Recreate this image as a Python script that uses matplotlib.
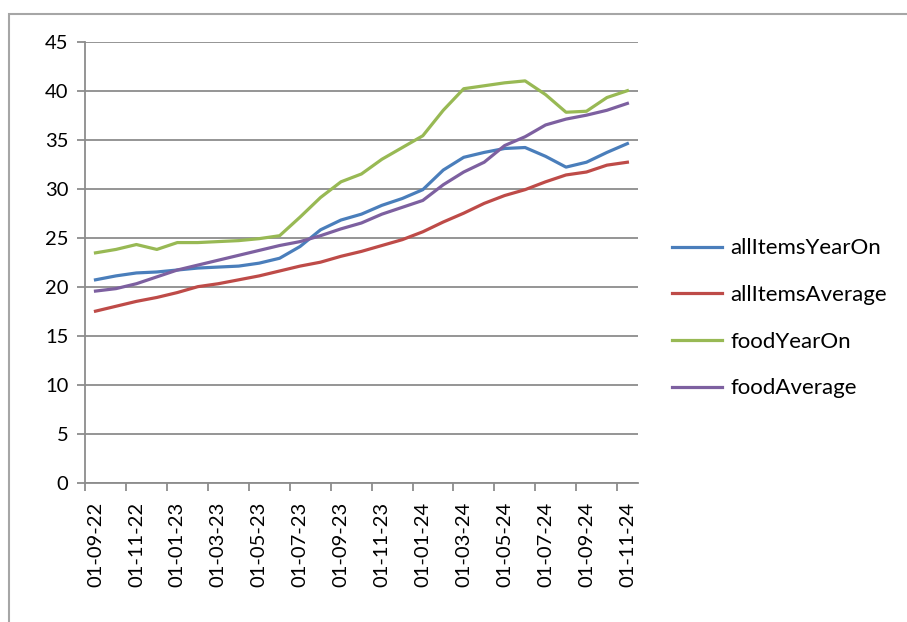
import matplotlib
matplotlib.use("Agg")
import matplotlib.pyplot as plt
from matplotlib.patches import Rectangle

plt.rcParams["font.family"] = ["Lato", "DejaVu Sans"]

# monthly dates, Sep 2022 .. Nov 2024
months = [
    "01-09-22", "01-10-22", "01-11-22", "01-12-22", "01-01-23", "01-02-23",
    "01-03-23", "01-04-23", "01-05-23", "01-06-23", "01-07-23", "01-08-23",
    "01-09-23", "01-10-23", "01-11-23", "01-12-23", "01-01-24", "01-02-24",
    "01-03-24", "01-04-24", "01-05-24", "01-06-24", "01-07-24", "01-08-24",
    "01-09-24", "01-10-24", "01-11-24",
]

all_items_year_on = [
    20.7, 21.1, 21.4, 21.5, 21.7, 21.9, 22.0, 22.1, 22.4, 22.9, 24.1, 25.8,
    26.8, 27.4, 28.3, 29.0, 29.9, 31.9, 33.2, 33.7, 34.1, 34.2, 33.3, 32.2,
    32.7, 33.7, 34.6,
]
all_items_average = [
    17.5, 18.0, 18.5, 18.9, 19.4, 20.0, 20.3, 20.7, 21.1, 21.6, 22.1, 22.5,
    23.1, 23.6, 24.2, 24.8, 25.6, 26.6, 27.5, 28.5, 29.3, 29.9, 30.7, 31.4,
    31.7, 32.4, 32.7,
]
food_year_on = [
    23.45, 23.8, 24.3, 23.8, 24.5, 24.5, 24.6, 24.7, 24.9, 25.2, 27.1, 29.1,
    30.7, 31.5, 33.0, 34.2, 35.4, 38.0, 40.2, 40.5, 40.8, 41.0, 39.6, 37.8,
    37.9, 39.3, 40.0,
]
food_average = [
    19.55, 19.8, 20.3, 21.0, 21.7, 22.2, 22.7, 23.2, 23.7, 24.2, 24.6, 25.2,
    25.9, 26.5, 27.4, 28.1, 28.8, 30.4, 31.7, 32.7, 34.4, 35.3, 36.5, 37.1,
    37.5, 38.0, 38.7,
]

series = [
    ("allItemsYearOn", all_items_year_on, "#4A7EBB"),
    ("allItemsAverage", all_items_average, "#BE4B48"),
    ("foodYearOn", food_year_on, "#98B954"),
    ("foodAverage", food_average, "#7D60A0"),
]

fig = plt.figure(figsize=(9.07, 6.22), dpi=100)
ax = fig.add_axes([0.094, 0.224, 0.609, 0.709])

# outer chart frame
fig.patches.append(Rectangle((9 / 907, -0.1), 1.2, 1 - 14 / 622 + 0.1,
                             transform=fig.transFigure, fill=False,
                             edgecolor="#A6A6A6", linewidth=1.5))

x = list(range(len(months)))
for name, vals, col in series:
    ax.plot(x, vals, color=col, linewidth=2.3, label=name)

ax.set_xlim(-0.5, len(months) - 0.5)
ax.set_ylim(0, 45)
ax.set_yticks(range(0, 46, 5))
ax.grid(axis="y", color="#8C8C8C", linewidth=1.3)
ax.set_axisbelow(True)

ax.set_xticks(x[::2])
ax.set_xticklabels(months[::2], rotation=90)
ax.set_xticks([i - 0.5 for i in x[::2]], minor=True)
ax.tick_params(axis="x", which="major", length=0, pad=14, labelsize=14.5)
ax.tick_params(axis="x", which="minor", length=6, color="#8C8C8C", width=1.3)
ax.tick_params(axis="y", length=6, color="#8C8C8C", width=1.3, labelsize=14.5, pad=6)

for side in ["top", "right"]:
    ax.spines[side].set_visible(False)
for side in ["left", "bottom"]:
    ax.spines[side].set_color("#8C8C8C")
    ax.spines[side].set_linewidth(1.3)

fig.legend(loc="center left", bbox_to_anchor=(0.719, 0.488), frameon=False,
           fontsize=16, handlelength=2.25, handletextpad=0.36, labelspacing=1.2)

fig.savefig("out.png", dpi=100)
